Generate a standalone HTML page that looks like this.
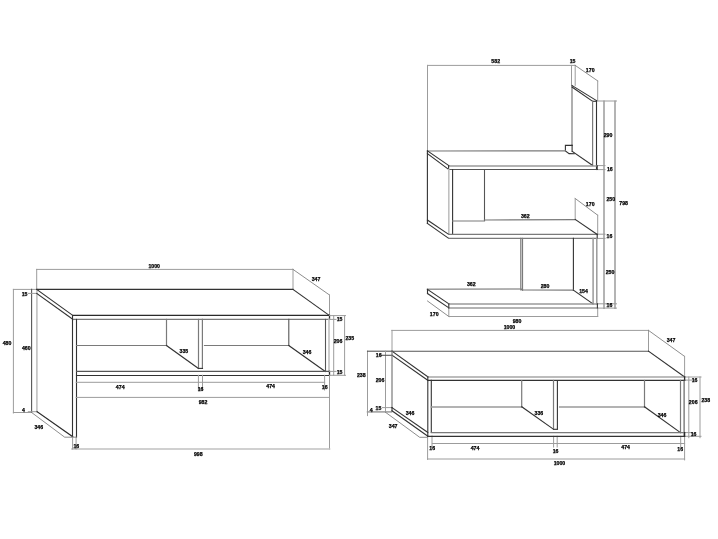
<!DOCTYPE html>
<html><head><meta charset="utf-8"><title>Furniture drawing</title>
<style>
html,body{margin:0;padding:0;background:#fff;}
body{width:718px;height:539px;overflow:hidden;}
svg{display:block;}
line,polyline{fill:none;stroke-linecap:square;}
.d{stroke:#333;stroke-width:1.1}
.t{stroke:#2a2a2a;stroke-width:1.3}
.g{stroke:#9c9c9c;stroke-width:1.0}
.lg{stroke:#c0c0c0;stroke-width:1.6}
.m{stroke:#555;stroke-width:1.1}
.md{stroke:#7a7a7a;stroke-width:1.2}
.hl{stroke:#9a9a9a;stroke-width:1.5}
.g2{stroke:#6a6a6a;stroke-width:1.0}
.gd{stroke:#808080;stroke-width:0.9}
text{font-family:"Liberation Sans",sans-serif;font-weight:bold;fill:#000;stroke:#000;stroke-width:0.25;text-anchor:middle;}
</style></head>
<body>
<svg width="718" height="539" viewBox="0 0 718 539">
<defs><filter id="b" filterUnits="userSpaceOnUse" x="0" y="0" width="718" height="539"><feGaussianBlur stdDeviation="0.2"/></filter></defs>
<rect width="718" height="539" fill="#fff"/>
<g filter="url(#b)">
<line x1="36.7" y1="269.4" x2="293" y2="269.4" class="g"/>
<line x1="36.7" y1="269.4" x2="36.7" y2="289.4" class="g"/>
<line x1="293" y1="269.4" x2="293" y2="289.2" class="g"/>
<line x1="293" y1="269.4" x2="329.5" y2="295" class="gd"/>
<line x1="329.5" y1="295" x2="329.5" y2="315.6" class="g"/>
<line x1="13.4" y1="289.4" x2="13.4" y2="413" class="g"/>
<line x1="13.4" y1="289.4" x2="36.7" y2="289.4" class="g"/>
<line x1="13.4" y1="412.5" x2="31.6" y2="412.5" class="g"/>
<line x1="31.6" y1="289.4" x2="31.6" y2="412.5" class="m"/>
<line x1="28.4" y1="293.4" x2="36.7" y2="293.4" class="g"/>
<line x1="28.3" y1="411.7" x2="37.1" y2="411.7" class="g"/>
<polyline points="31.6,412.5 64.7,437.2 76.1,437.2" class="gd"/>
<line x1="36.9" y1="289.4" x2="36.9" y2="411.7" class="lg"/>
<line x1="36.7" y1="289.4" x2="293" y2="289.4" class="d"/>
<line x1="36.7" y1="289.4" x2="73" y2="315.6" class="d"/>
<line x1="36.7" y1="293.4" x2="73" y2="319.4" class="d"/>
<line x1="73" y1="315.45" x2="329.5" y2="315.45" class="t"/>
<line x1="73" y1="319.45" x2="329.5" y2="319.45" class="md"/>
<line x1="293" y1="289.4" x2="329.5" y2="315.6" class="d"/>
<line x1="329.5" y1="315.6" x2="329.5" y2="319.4" class="t"/>
<line x1="37.1" y1="411.7" x2="72.6" y2="436.6" class="t"/>
<line x1="72.5" y1="315.6" x2="72.5" y2="437.2" class="d"/>
<line x1="76.5" y1="319.4" x2="76.5" y2="437.2" class="d"/>
<line x1="76.5" y1="345.5" x2="166.5" y2="345.5" class="md"/>
<line x1="166.5" y1="319.4" x2="166.5" y2="345.5" class="md"/>
<line x1="166.5" y1="345.5" x2="198.4" y2="368.4" class="d"/>
<line x1="198.5" y1="319.4" x2="198.5" y2="368.4" class="md"/>
<line x1="202.4" y1="319.4" x2="202.4" y2="368.4" class="md"/>
<line x1="198.4" y1="368.4" x2="202.5" y2="368.4" class="d"/>
<line x1="204.5" y1="345.5" x2="288.8" y2="345.5" class="md"/>
<line x1="288.8" y1="319.4" x2="288.8" y2="345.5" class="m"/>
<line x1="288.8" y1="345.5" x2="325.2" y2="371.4" class="d"/>
<line x1="325.5" y1="319.4" x2="325.5" y2="371.4" class="m"/>
<line x1="329.0" y1="319.4" x2="329.0" y2="371.4" class="lg"/>
<line x1="76.5" y1="371.4" x2="329.5" y2="371.4" class="m"/>
<line x1="76.5" y1="375.45" x2="329.5" y2="375.45" class="d"/>
<line x1="329.5" y1="371.4" x2="329.5" y2="375.3" class="t"/>
<line x1="333.7" y1="315.6" x2="333.7" y2="375.3" class="g"/>
<line x1="344.6" y1="315.6" x2="344.6" y2="375.3" class="g"/>
<line x1="329.5" y1="315.6" x2="345.5" y2="315.6" class="g"/>
<line x1="329.5" y1="375.3" x2="345.5" y2="375.3" class="g"/>
<line x1="329.5" y1="319.4" x2="336" y2="319.4" class="g"/>
<line x1="329.5" y1="371.4" x2="336" y2="371.4" class="g"/>
<line x1="76.1" y1="382.3" x2="324.6" y2="382.3" class="g"/>
<line x1="198.4" y1="375.3" x2="198.4" y2="390" class="g"/>
<line x1="202.5" y1="375.3" x2="202.5" y2="390" class="g"/>
<line x1="324.6" y1="375.3" x2="324.6" y2="390" class="g"/>
<line x1="329.5" y1="375.3" x2="329.5" y2="449" class="g"/>
<line x1="76.1" y1="397.4" x2="329.5" y2="397.4" class="g"/>
<line x1="72.0" y1="449" x2="329.5" y2="449" class="lg"/>
<line x1="72.6" y1="437.2" x2="72.6" y2="449" class="g"/>
<line x1="76.1" y1="437.2" x2="76.1" y2="449" class="g"/>
<line x1="427.5" y1="65.4" x2="575.2" y2="65.4" class="g"/>
<line x1="427.5" y1="65.4" x2="427.5" y2="150.9" class="g"/>
<line x1="571.5" y1="65.4" x2="571.5" y2="85.4" class="g"/>
<line x1="575.2" y1="65.4" x2="575.2" y2="85.4" class="g"/>
<line x1="575.2" y1="65.4" x2="597.7" y2="80.9" class="gd"/>
<line x1="597.7" y1="80.9" x2="597.7" y2="100.6" class="g"/>
<line x1="604.0" y1="101" x2="604.0" y2="308.5" class="g2"/>
<line x1="615.0" y1="101" x2="615.0" y2="308.5" class="g2"/>
<line x1="597" y1="101" x2="616.5" y2="101" class="g"/>
<line x1="597.5" y1="165.6" x2="605" y2="165.6" class="g"/>
<line x1="597.5" y1="169.6" x2="605" y2="169.6" class="g"/>
<line x1="597.5" y1="234.2" x2="605" y2="234.2" class="g"/>
<line x1="597.5" y1="238.4" x2="605" y2="238.4" class="g"/>
<line x1="597.5" y1="303.8" x2="616.5" y2="303.8" class="g"/>
<line x1="597.5" y1="308.1" x2="616.5" y2="308.1" class="g"/>
<line x1="575.2" y1="198.5" x2="597.7" y2="215.2" class="gd"/>
<line x1="575.2" y1="198.5" x2="575.2" y2="219.2" class="g"/>
<line x1="597.7" y1="215.2" x2="597.7" y2="234.2" class="g"/>
<line x1="427.5" y1="301" x2="448.8" y2="316.5" class="gd"/>
<line x1="448.8" y1="316.5" x2="597.7" y2="316.5" class="g"/>
<line x1="448.8" y1="308" x2="448.8" y2="316.5" class="g"/>
<line x1="597.7" y1="308.1" x2="597.7" y2="316.5" class="g"/>
<line x1="572.0" y1="85.6" x2="572.0" y2="145.4" class="md"/>
<line x1="572.2" y1="85.6" x2="596.5" y2="100.6" class="d"/>
<line x1="572.0" y1="87.0" x2="592.6" y2="101.3" class="d"/>
<line x1="592.6" y1="101.3" x2="596.5" y2="101.3" class="d"/>
<line x1="592.6" y1="101.3" x2="592.6" y2="165.4" class="md"/>
<line x1="596.5" y1="100.6" x2="596.5" y2="169.5" class="d"/>
<polyline points="572.1,145.4 565.4,145.4 565.4,151.0 569.1,153.6 574.3,153.8" class="d"/>
<line x1="572.1" y1="145.4" x2="572.1" y2="151.3" class="d"/>
<line x1="427.5" y1="151.0" x2="565.4" y2="150.9" class="md"/>
<line x1="572.3" y1="151.4" x2="592.6" y2="165.4" class="d"/>
<line x1="448.8" y1="165.9" x2="597.2" y2="165.9" class="hl"/>
<line x1="448.8" y1="169.5" x2="597.2" y2="169.5" class="m"/>
<line x1="597.2" y1="165.9" x2="597.2" y2="169.5" class="d"/>
<line x1="448.6" y1="165.9" x2="448.6" y2="169.5" class="d"/>
<line x1="427.5" y1="150.9" x2="448.8" y2="165.6" class="d"/>
<line x1="427.5" y1="153.6" x2="448.8" y2="169.6" class="d"/>
<line x1="427.4" y1="150.9" x2="427.4" y2="223.4" class="d"/>
<line x1="448.8" y1="169.6" x2="448.8" y2="234.3" class="lg"/>
<line x1="452.6" y1="169.6" x2="452.6" y2="234.3" class="d"/>
<line x1="484.5" y1="169.6" x2="484.5" y2="220.5" class="m"/>
<line x1="452.6" y1="221.0" x2="484.5" y2="221.0" class="md"/>
<line x1="484.5" y1="220.0" x2="575.2" y2="219.6" class="md"/>
<line x1="427.4" y1="220.0" x2="448.6" y2="234.3" class="d"/>
<line x1="427.4" y1="223.4" x2="448.6" y2="238.3" class="d"/>
<line x1="448.6" y1="234.35" x2="597.2" y2="234.35" class="md"/>
<line x1="448.6" y1="238.45" x2="597.2" y2="238.45" class="md"/>
<line x1="597.2" y1="234.4" x2="597.2" y2="238.3" class="d"/>
<line x1="575.2" y1="219.4" x2="597.2" y2="234.4" class="d"/>
<line x1="520.8" y1="238.4" x2="520.8" y2="290" class="md"/>
<line x1="522.5" y1="238.4" x2="522.5" y2="290" class="md"/>
<line x1="573.4" y1="238.4" x2="573.4" y2="290.2" class="d"/>
<line x1="593.1" y1="238.4" x2="593.1" y2="303.9" class="hl"/>
<line x1="596.8" y1="238.4" x2="596.8" y2="303.9" class="hl"/>
<line x1="427.5" y1="289.3" x2="520.8" y2="289.0" class="hl"/>
<line x1="520.8" y1="289.0" x2="522.5" y2="290.0" class="md"/>
<line x1="522.5" y1="290.0" x2="573.4" y2="290.2" class="md"/>
<line x1="573.4" y1="290.2" x2="592.9" y2="303.8" class="d"/>
<line x1="427.5" y1="289.4" x2="448.8" y2="303.8" class="d"/>
<line x1="427.5" y1="293.5" x2="448.8" y2="307.8" class="d"/>
<line x1="427.5" y1="289.4" x2="427.5" y2="293.5" class="d"/>
<line x1="448.8" y1="303.9" x2="597.4" y2="303.9" class="hl"/>
<line x1="448.8" y1="307.9" x2="597.4" y2="307.9" class="hl"/>
<line x1="597.4" y1="303.9" x2="597.4" y2="307.9" class="d"/>
<line x1="448.8" y1="303.8" x2="448.8" y2="308.0" class="d"/>
<line x1="391.8" y1="330.4" x2="648.5" y2="330.4" class="g"/>
<line x1="392.0" y1="330.4" x2="392.0" y2="351.2" class="g"/>
<line x1="648.5" y1="330.4" x2="648.5" y2="351.2" class="g"/>
<line x1="648.5" y1="330.4" x2="684.6" y2="356.4" class="gd"/>
<line x1="684.6" y1="356.4" x2="684.6" y2="377.0" class="g"/>
<line x1="367.5" y1="351.2" x2="367.5" y2="415.6" class="g"/>
<line x1="367.5" y1="351.2" x2="392.0" y2="351.2" class="m"/>
<line x1="367.5" y1="411.9" x2="391.5" y2="411.9" class="hl"/>
<line x1="385.5" y1="351.2" x2="385.5" y2="412.2" class="g"/>
<line x1="381" y1="355.3" x2="392.0" y2="355.3" class="m"/>
<line x1="382.5" y1="407.6" x2="392.0" y2="407.6" class="g"/>
<polyline points="385.4,412.2 419.7,437.3 427.6,437.3" class="gd"/>
<line x1="688.8" y1="377.0" x2="688.8" y2="437.7" class="g"/>
<line x1="700" y1="377.0" x2="700" y2="437.7" class="g"/>
<line x1="684.6" y1="377.0" x2="701" y2="377.0" class="g"/>
<line x1="684.6" y1="436.3" x2="701" y2="436.3" class="g"/>
<line x1="684.6" y1="380.1" x2="692" y2="380.1" class="g"/>
<line x1="684.6" y1="432.6" x2="692" y2="432.6" class="g"/>
<line x1="432.4" y1="443.5" x2="684.6" y2="443.5" class="g"/>
<line x1="427.6" y1="459" x2="684.6" y2="459" class="g"/>
<line x1="427.6" y1="436" x2="427.6" y2="459.4" class="g"/>
<line x1="432.0" y1="436" x2="432.0" y2="447" class="g"/>
<line x1="553.6" y1="436.3" x2="553.6" y2="447" class="g"/>
<line x1="557.2" y1="436.3" x2="557.2" y2="447" class="g"/>
<line x1="680.7" y1="436.3" x2="680.7" y2="447" class="g"/>
<line x1="684.6" y1="436.3" x2="684.6" y2="459.9" class="g"/>
<line x1="392.0" y1="351.2" x2="648.5" y2="351.2" class="m"/>
<line x1="392.0" y1="351.2" x2="428.0" y2="377.0" class="d"/>
<line x1="392.0" y1="355.2" x2="428.0" y2="380.4" class="d"/>
<line x1="648.5" y1="351.2" x2="684.6" y2="377.0" class="d"/>
<line x1="428.0" y1="377.0" x2="684.6" y2="377.0" class="md"/>
<line x1="428.0" y1="380.4" x2="684.6" y2="380.4" class="d"/>
<line x1="684.6" y1="377.0" x2="684.6" y2="380.4" class="t"/>
<line x1="392.0" y1="351.2" x2="392.0" y2="407.6" class="md"/>
<line x1="392.0" y1="407.6" x2="427.8" y2="432.5" class="d"/>
<line x1="392.0" y1="410.8" x2="427.8" y2="436.2" class="d"/>
<line x1="392.0" y1="407.6" x2="392.0" y2="410.8" class="d"/>
<line x1="427.8" y1="377.0" x2="427.8" y2="436.0" class="d"/>
<line x1="431.3" y1="380.4" x2="431.3" y2="432.5" class="d"/>
<line x1="431.4" y1="407.1" x2="521.7" y2="407.1" class="hl"/>
<line x1="521.7" y1="380.5" x2="521.7" y2="407.0" class="md"/>
<line x1="521.8" y1="406.8" x2="553.6" y2="429.3" class="d"/>
<line x1="553.5" y1="380.5" x2="553.5" y2="429.3" class="md"/>
<line x1="557.4" y1="380.5" x2="557.4" y2="429.3" class="d"/>
<line x1="553.6" y1="429.3" x2="557.2" y2="429.3" class="d"/>
<line x1="559.7" y1="407.1" x2="644.5" y2="407.1" class="hl"/>
<line x1="644.5" y1="380.5" x2="644.5" y2="407.0" class="md"/>
<line x1="644.5" y1="406.8" x2="680.4" y2="432.6" class="d"/>
<line x1="680.5" y1="380.4" x2="680.5" y2="432.7" class="md"/>
<line x1="684.1" y1="380.4" x2="684.1" y2="436.4" class="m"/>
<line x1="431.4" y1="432.7" x2="684.6" y2="432.7" class="md"/>
<line x1="427.6" y1="436.4" x2="684.6" y2="436.4" class="d"/>
<line x1="684.6" y1="432.6" x2="684.6" y2="436.2" class="t"/>
<text x="154.2" y="267.70" style="font-size:5.2px">1000</text>
<text x="316" y="281.00" style="font-size:5.2px">347</text>
<text x="24.6" y="295.60" style="font-size:5.2px">15</text>
<text x="7" y="344.90" style="font-size:5.2px">480</text>
<text x="26.3" y="350.40" style="font-size:5.2px">460</text>
<text x="23.4" y="412.20" style="font-size:5.2px">4</text>
<text x="38.8" y="428.90" style="font-size:5.2px">346</text>
<text x="183.9" y="353.10" style="font-size:5.2px">335</text>
<text x="307" y="354.20" style="font-size:5.2px">346</text>
<text x="339.6" y="321.10" style="font-size:5.2px">15</text>
<text x="338.0" y="342.70" style="font-size:5.2px">206</text>
<text x="339.6" y="374.30" style="font-size:5.2px">15</text>
<text x="349.8" y="340.20" style="font-size:5.2px">235</text>
<text x="120.2" y="388.50" style="font-size:5.2px">474</text>
<text x="200.6" y="390.80" style="font-size:5.2px">16</text>
<text x="270.6" y="388.10" style="font-size:5.2px">474</text>
<text x="324.7" y="389.20" style="font-size:5.2px">16</text>
<text x="203.0" y="404.40" style="font-size:5.2px">982</text>
<text x="198.3" y="455.60" style="font-size:5.2px">998</text>
<text x="76.3" y="447.60" style="font-size:5.2px">16</text>
<text x="495.7" y="63.10" style="font-size:5.2px">582</text>
<text x="572.6" y="63.10" style="font-size:5.2px">15</text>
<text x="590.2" y="71.90" style="font-size:5.2px">170</text>
<text x="608" y="136.90" style="font-size:5.2px">290</text>
<text x="609.8" y="171.00" style="font-size:5.2px">16</text>
<text x="610.8" y="201.10" style="font-size:5.2px">250</text>
<text x="623.6" y="205.20" style="font-size:5.2px">798</text>
<text x="609.4" y="238.40" style="font-size:5.2px">16</text>
<text x="610" y="273.50" style="font-size:5.2px">250</text>
<text x="609.4" y="307.00" style="font-size:5.2px">16</text>
<text x="590.2" y="206.10" style="font-size:5.2px">170</text>
<text x="525.3" y="217.90" style="font-size:5.2px">362</text>
<text x="471.3" y="286.40" style="font-size:5.2px">362</text>
<text x="545" y="287.70" style="font-size:5.2px">280</text>
<text x="583.5" y="293.20" style="font-size:5.2px">154</text>
<text x="434.2" y="316.00" style="font-size:5.2px">170</text>
<text x="517" y="322.70" style="font-size:5.2px">980</text>
<text x="509.5" y="329.20" style="font-size:5.2px">1000</text>
<text x="671" y="342.20" style="font-size:5.2px">347</text>
<text x="378.7" y="357.00" style="font-size:5.2px">16</text>
<text x="380" y="382.00" style="font-size:5.2px">206</text>
<text x="361.3" y="376.70" style="font-size:5.2px">238</text>
<text x="371.2" y="412.40" style="font-size:5.2px">4</text>
<text x="378.4" y="410.10" style="font-size:5.2px">15</text>
<text x="393.1" y="428.20" style="font-size:5.2px">347</text>
<text x="410" y="415.20" style="font-size:5.2px">346</text>
<text x="538.9" y="414.80" style="font-size:5.2px">336</text>
<text x="662" y="416.50" style="font-size:5.2px">346</text>
<text x="694.6" y="382.00" style="font-size:5.2px">16</text>
<text x="693.2" y="404.00" style="font-size:5.2px">206</text>
<text x="705.8" y="401.70" style="font-size:5.2px">238</text>
<text x="693.6" y="436.00" style="font-size:5.2px">16</text>
<text x="432.2" y="449.50" style="font-size:5.2px">16</text>
<text x="475" y="449.90" style="font-size:5.2px">474</text>
<text x="555.6" y="452.70" style="font-size:5.2px">16</text>
<text x="625.6" y="449.40" style="font-size:5.2px">474</text>
<text x="680.2" y="450.70" style="font-size:5.2px">16</text>
<text x="559.4" y="465.20" style="font-size:5.2px">1000</text>
</g>
</svg>
</body></html>
